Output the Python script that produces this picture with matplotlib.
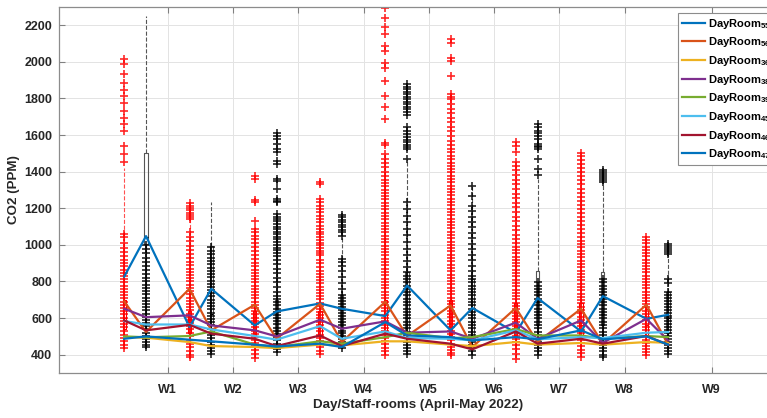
import matplotlib
matplotlib.use("Agg")
import matplotlib.pyplot as plt

plt.rcParams["font.family"] = ["Liberation Sans", "DejaVu Sans"]
plt.rcParams["font.weight"] = "bold"
plt.rcParams["mathtext.fontset"] = "custom"
plt.rcParams["mathtext.bf"] = "Liberation Sans:bold"
plt.rcParams["mathtext.rm"] = "Liberation Sans:bold"

# x positions: red box, black box per pair
red_pos = [1, 4, 7, 10, 13, 16, 19, 22, 25]
black_pos = [2, 5, 8, 11, 14, 17, 20, 23, 26]
line_pos = [1, 2, 4, 5, 7, 8, 10, 11, 13, 14, 16, 17, 19, 20, 22, 23, 25, 26]
week_ticks = [3, 6, 9, 12, 15, 18, 21, 24, 28]
week_labels = ["W1", "W2", "W3", "W4", "W5", "W6", "W7", "W8", "W9"]

rooms = ["55", "56", "36", "38", "39", "45", "46", "47"]
room_colors = ["#0072BD", "#D95319", "#EDB120", "#7E2F8E",
               "#77AC30", "#4DBEEE", "#A2142F", "#0072BD"]

room55 = [827, 1048, 551, 760, 560, 636, 680, 651, 611, 778, 533, 655, 520, 709, 527, 720, 596, 618]
room56 = [691, 524, 760, 533, 673, 487, 678, 469, 689, 502, 669, 442, 655, 469, 651, 460, 673, 455]
room36 = [496, 493, 469, 447, 442, 436, 455, 451, 473, 473, 455, 447, 469, 455, 464, 455, 469, 465]
room38 = [651, 605, 615, 560, 533, 500, 591, 542, 582, 520, 527, 487, 575, 487, 587, 465, 596, 478]
room39 = [500, 495, 502, 527, 455, 442, 473, 460, 496, 520, 490, 496, 540, 505, 505, 487, 502, 496]
room45 = [584, 565, 565, 538, 502, 482, 556, 487, 527, 491, 487, 478, 533, 484, 496, 491, 520, 524]
room46 = [587, 533, 563, 515, 487, 447, 505, 447, 515, 487, 460, 429, 527, 460, 487, 460, 502, 455]
room47 = [487, 500, 482, 473, 455, 445, 460, 442, 578, 505, 496, 478, 496, 484, 533, 484, 500, 455]
room_values = [room55, room56, room36, room38, room39, room45, room46, room47]

# box statistics (mostly hidden behind the outliers)
red_whislo = [430, 388, 380, 405, 396, 396, 378, 387, 400]
red_q1 = [540, 520, 500, 500, 520, 510, 500, 500, 500]
red_med = [600, 580, 560, 560, 580, 570, 560, 560, 560]
red_q3 = [700, 640, 640, 640, 700, 700, 680, 680, 650]
red_whishi = [1420, 1140, 1100, 1230, 1500, 1500, 1430, 1490, 1030]

black_whislo = [440, 405, 415, 435, 405, 400, 396, 387, 405]
black_q1 = [1005, 560, 520, 500, 520, 500, 560, 560, 520]
black_med = [1045, 620, 600, 580, 600, 580, 620, 620, 600]
black_q3 = [1500, 993, 700, 724, 851, 814, 860, 851, 742]
black_whishi = [2250, 1236, 1160, 1060, 1469, 1320, 1360, 1335, 945]

red_fliers = [
    [2014, 1987, 1932, 1887, 1847, 1811, 1774, 1732, 1696, 1660, 1620, 1542, 1496, 1451,
     1060, 1042, 1010, 985, 962, 940, 918, 900, 882, 865, 848, 830, 812, 795, 778, 760,
     742, 725, 708, 690, 672, 655, 638, 620, 602, 585, 568, 550, 530, 510, 492, 475, 455, 438],
    [1228, 1215, 1202, 1190, 1176, 1162, 1150, 1140, 1069, 1045, 1020, 995, 972, 950, 928,
     905, 888, 870, 852, 835, 818, 800, 782, 765, 748, 730, 712, 695, 678, 660, 642, 625,
     608, 590, 572, 555, 538, 520, 500, 480, 460, 440, 420, 400, 388],
    [1378, 1360, 1245, 1233, 1133, 1087, 1068, 1050, 1033, 1010, 990, 965, 945, 922, 900,
     882, 865, 848, 830, 812, 795, 778, 760, 742, 725, 708, 690, 672, 655, 638, 620, 602,
     585, 568, 550, 532, 515, 498, 480, 462, 445, 428, 405, 380],
    [1345, 1333, 1251, 1233, 1215, 1196, 1178, 1160, 1142, 1123, 1105, 1088, 1072, 1058,
     1042, 1028, 1012, 998, 982, 968, 955, 942, 920, 900, 880, 860, 842, 825, 808, 790, 772,
     755, 738, 720, 702, 685, 668, 650, 632, 615, 598, 580, 562, 545, 528, 510, 492, 475,
     458, 440, 422, 405],
    [2296, 2242, 2193, 2151, 2087, 2060, 1996, 1969, 1896, 1814, 1751, 1687, 1556, 1545,
     1496, 1472, 1448, 1424, 1400, 1376, 1356, 1338, 1320, 1302, 1284, 1266, 1248, 1230,
     1212, 1194, 1176, 1158, 1140, 1122, 1104, 1086, 1068, 1050, 1032, 1014, 996, 978, 960,
     942, 924, 906, 888, 870, 852, 834, 816, 798, 780, 762, 744, 726, 708, 690, 672, 654,
     636, 618, 600, 582, 564, 546, 528, 510, 492, 474, 456, 438, 420, 396],
    [2123, 2105, 2023, 2005, 1923, 1824, 1810, 1796, 1770, 1745, 1720, 1695, 1670, 1645,
     1620, 1595, 1570, 1545, 1523, 1505, 1486, 1468, 1450, 1432, 1414, 1396, 1378, 1360,
     1342, 1324, 1306, 1288, 1270, 1252, 1234, 1216, 1198, 1180, 1162, 1144, 1126, 1108,
     1090, 1072, 1054, 1036, 1018, 1000, 982, 964, 946, 928, 910, 892, 874, 856, 838, 820,
     802, 784, 766, 748, 730, 712, 694, 676, 658, 640, 622, 604, 586, 568, 550, 532, 514,
     496, 478, 460, 442, 424, 408, 396],
    [1560, 1542, 1505, 1451, 1433, 1408, 1382, 1356, 1330, 1305, 1280, 1255, 1230, 1205,
     1180, 1155, 1130, 1105, 1080, 1055, 1030, 1008, 990, 972, 954, 936, 918, 900, 882, 864,
     846, 828, 810, 792, 774, 756, 738, 720, 702, 684, 666, 648, 630, 612, 594, 576, 558,
     540, 522, 504, 486, 468, 451, 430, 405, 378],
    [1502, 1485, 1462, 1440, 1418, 1396, 1374, 1352, 1330, 1308, 1286, 1264, 1242, 1220,
     1198, 1176, 1154, 1132, 1110, 1088, 1066, 1044, 1022, 1004, 986, 968, 950, 932, 914,
     896, 878, 860, 842, 824, 806, 788, 770, 752, 734, 716, 698, 680, 662, 644, 626, 608,
     590, 572, 554, 536, 518, 500, 482, 464, 446, 428, 408, 387],
    [1042, 1025, 1008, 990, 972, 955, 938, 920, 902, 885, 868, 850, 832, 815, 798, 780, 762,
     745, 728, 710, 692, 675, 658, 640, 622, 605, 588, 570, 552, 535, 518, 500, 482, 465,
     448, 430, 412, 400],
]

black_fliers = [
    [1000, 978, 955, 930, 905, 885, 862, 840, 820, 800, 782, 765, 748, 730, 712, 695, 678,
     660, 642, 625, 608, 590, 572, 555, 538, 520, 502, 485, 468, 452, 440],
    [987, 968, 950, 930, 912, 893, 875, 858, 840, 822, 805, 788, 770, 752, 735, 718, 700,
     682, 665, 648, 630, 612, 595, 578, 560, 542, 525, 508, 490, 472, 455, 438, 420, 405],
    [1614, 1596, 1578, 1551, 1523, 1505, 1460, 1442, 1360, 1351, 1305, 1251, 1242, 1233,
     1169, 1155, 1142, 1128, 1115, 1100, 1087, 1072, 1058, 1044, 1030, 1015, 1000, 985, 970,
     955, 940, 920, 895, 870, 845, 820, 795, 770, 745, 722, 705, 688, 670, 652, 635, 618,
     600, 582, 565, 548, 530, 512, 495, 478, 460, 445, 430, 415],
    [1164, 1150, 1137, 1124, 1110, 1097, 1083, 1069, 1051, 924, 905, 887, 860, 823, 790,
     760, 724, 708, 692, 676, 660, 644, 628, 612, 596, 580, 564, 548, 532, 516, 500, 484,
     468, 451, 435],
    [1878, 1864, 1850, 1836, 1822, 1808, 1795, 1782, 1768, 1755, 1740, 1725, 1712, 1642,
     1624, 1605, 1590, 1575, 1560, 1545, 1533, 1524, 1469, 1233, 1196, 1160, 1124, 1088,
     1052, 1016, 980, 945, 910, 878, 851, 832, 814, 796, 778, 760, 742, 724, 706, 688, 670,
     652, 634, 616, 598, 580, 562, 544, 526, 508, 490, 472, 454, 436, 418, 405],
    [1320, 1269, 1214, 1185, 1155, 1125, 1095, 1065, 1035, 1005, 975, 945, 915, 885, 855,
     830, 814, 796, 778, 760, 742, 724, 706, 688, 670, 652, 634, 616, 598, 580, 562, 544,
     526, 508, 490, 472, 454, 436, 418, 400],
    [1660, 1642, 1624, 1614, 1596, 1578, 1551, 1542, 1533, 1524, 1469, 1414, 1380, 796, 778,
     760, 742, 724, 706, 688, 670, 652, 634, 616, 598, 580, 562, 544, 526, 508, 490, 472,
     454, 436, 418, 396],
    [1411, 1400, 1389, 1378, 1366, 1356, 1345, 814, 796, 778, 760, 742, 724, 706, 688, 670,
     652, 634, 616, 598, 580, 562, 544, 526, 508, 490, 472, 454, 436, 418, 400, 387],
    [1005, 995, 985, 972, 960, 951, 814, 790, 742, 726, 710, 694, 678, 662, 646, 630, 614,
     598, 582, 566, 550, 534, 518, 502, 486, 470, 454, 438, 422, 405],
]


def make_stats(whislo, q1, med, q3, whishi, fliers):
    return [dict(whislo=a, q1=b, med=c, q3=d, whishi=e, fliers=f)
            for a, b, c, d, e, f in zip(whislo, q1, med, q3, whishi, fliers)]


fig = plt.figure(figsize=(7.67, 4.18), dpi=100)
ax = fig.add_axes([0.0769, 0.1077, 0.936, 0.8756])

for stats, pos, col in [
    (make_stats(red_whislo, red_q1, red_med, red_q3, red_whishi, red_fliers), red_pos, "#ff0000"),
    (make_stats(black_whislo, black_q1, black_med, black_q3, black_whishi, black_fliers), black_pos, "#000000"),
]:
    wcol = "#ff5050" if col == "#ff0000" else "#555555"
    ax.bxp(stats, positions=pos, widths=0.15, manage_ticks=False,
           boxprops=dict(color="#555555" if col == "#000000" else col, lw=0.8),
           whiskerprops=dict(color=wcol, ls="--", lw=0.8),
           capprops=dict(lw=0),
           medianprops=dict(color=col, lw=0.8),
           flierprops=dict(marker="+", markersize=6, markeredgewidth=1.2,
                           markeredgecolor=col, alpha=0.85, linestyle="none"),
           zorder=2)

handles = []
for name, vals, c in zip(rooms, room_values, room_colors):
    h, = ax.plot(line_pos, vals, color=c, lw=1.6, zorder=4,
                 label=r"DayRoom$_{\mathbf{%s}}$" % name)
    handles.append(h)

ax.set_xlim(-2, 31)
ax.set_ylim(300, 2300)
ax.set_xticks(week_ticks)
ax.set_xticklabels(week_labels)
ax.set_yticks(range(400, 2201, 200))
ax.tick_params(direction="in", top=True, right=True, length=4, width=0.8,
               color="#808080", labelsize=9, pad=5)
ax.tick_params(axis="x", pad=8)
for lab in ax.get_xticklabels() + ax.get_yticklabels():
    lab.set_fontweight("bold")
    lab.set_color("#262626")
ax.grid(True, color="#e3e3e3", lw=0.7, zorder=0)
ax.set_axisbelow(True)
for s in ax.spines.values():
    s.set_color("#8c8c8c")
    s.set_linewidth(0.9)

ax.set_xlabel("Day/Staff-rooms (April-May 2022)", fontsize=9.6, fontweight="bold",
              color="#262626", labelpad=2)
ax.set_ylabel("CO2 (PPM)", fontsize=9.6, fontweight="bold", color="#262626", labelpad=3)

leg = ax.legend(handles=handles, loc="upper left", bbox_to_anchor=(0.8836, 0.9696),
                bbox_transform=fig.transFigure, borderaxespad=0, fontsize=8,
                handlelength=2.1, handletextpad=0.25, labelspacing=0.42,
                borderpad=0.35, fancybox=False, framealpha=1, edgecolor="#8c8c8c")
leg.get_frame().set_linewidth(0.8)
leg.set_zorder(5)

fig.savefig("out.png", dpi=100)
